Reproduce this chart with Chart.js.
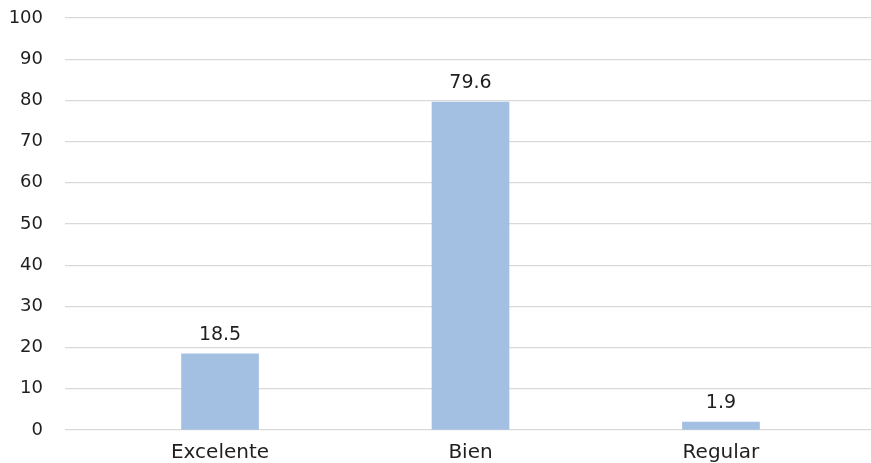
<!DOCTYPE html>
<html>
<head>
<meta charset="utf-8">
<script src="https://cdn.jsdelivr.net/npm/chart.js@4/dist/chart.umd.min.js"></script>
<style>
  html, body { margin: 0; padding: 0; background: #ffffff; }
  #wrap { width: 871px; height: 463px; position: relative; }
</style>
</head>
<body>
<div id="wrap"><canvas id="c"></canvas></div>
<script>
const categories = ['Excelente', 'Bien', 'Regular'];
const values = [18.5, 79.6, 1.9];
const yTicks = [0, 10, 20, 30, 40, 50, 60, 70, 80, 90, 100];

const FONT = '"DejaVu Sans", sans-serif';
const TEXT = '#1f1f1f';

const valueLabels = {
  id: 'valueLabels',
  afterDatasetsDraw(chart) {
    const ctx = chart.ctx;
    const meta = chart.getDatasetMeta(0);
    ctx.save();
    ctx.font = '19px ' + FONT;
    ctx.fillStyle = TEXT;
    ctx.textAlign = 'center';
    ctx.textBaseline = 'middle';
    meta.data.forEach((bar, i) => {
      ctx.fillText(values[i].toFixed(1), bar.x, bar.y - 19);
    });
    ctx.restore();
  }
};

new Chart(document.getElementById('c'), {
  type: 'bar',
  data: {
    datasets: [{
      data: values.map((v, i) => ({ x: i, y: v })),
      backgroundColor: '#A3BFE2',
      borderWidth: 0,
      barThickness: 77
    }]
  },
  options: {
    responsive: true,
    maintainAspectRatio: false,
    animation: false,
    layout: { padding: { top: 18, right: 0, bottom: 0, left: 0 } },
    plugins: { legend: { display: false }, tooltip: { enabled: false } },
    scales: {
      x: {
        type: 'linear',
        offset: false,
        min: -0.619,
        max: 2.599,
        afterBuildTicks: s => { s.ticks = categories.map((c, i) => ({ value: i })); },
        afterFit: s => { s.height = 33; s.paddingLeft = 0; s.paddingRight = 0; },
        grid: { display: false },
        border: { display: false },
        ticks: {
          callback: v => categories[v],
          color: TEXT,
          font: { family: FONT, size: 20 },
          padding: 3,
          maxRotation: 0
        }
      },
      y: {
        min: 0,
        max: 100,
        afterBuildTicks: s => { s.ticks = yTicks.map(v => ({ value: v })); },
        afterFit: s => { s.width = 65; s.paddingTop = 0; s.paddingBottom = 0; },
        grid: { color: '#d9d9d9', lineWidth: 1.3, drawTicks: false },
        border: { display: false },
        ticks: {
          color: TEXT,
          font: { family: FONT, size: 18 },
          padding: 22
        }
      }
    }
  },
  plugins: [valueLabels]
});
</script>
</body>
</html>
